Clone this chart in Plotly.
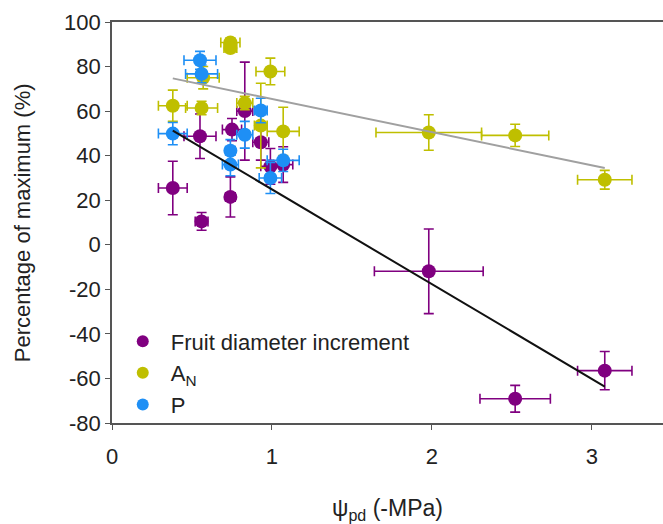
import plotly.graph_objects as go

# Fruit diameter increment (purple)
fruit_x = [0.38, 0.55, 0.56, 0.74, 0.75, 0.83, 0.93, 0.99, 1.07, 1.98, 2.52, 3.08]
fruit_y = [25.5, 48.7, 10.5, 21.5, 51.7, 60.0, 46.0, 35.2, 36.0, -11.9, -69.1, -56.5]
fruit_xerr = [0.09, 0.10, 0.04, 0.03, 0.06, 0.05, 0.05, 0.06, 0.06, 0.34, 0.22, 0.17]
fruit_yerr = [12, 10, 4, 9, 5, 22, 8, 8, 8, 19, 6, 8.6]

# Net assimilation A_N (olive yellow)
an_x = [0.38, 0.56, 0.57, 0.74, 0.74, 0.83, 0.93, 0.99, 1.07, 1.98, 2.52, 3.08]
an_y = [62.4, 61.4, 75.0, 90.8, 88.3, 63.6, 53.5, 77.8, 50.9, 50.4, 49.1, 29.2]
an_xerr = [0.09, 0.10, 0.10, 0.06, 0.04, 0.05, 0.04, 0.09, 0.10, 0.33, 0.21, 0.17]
an_yerr = [7, 3, 5, 2, 2, 3, 19, 6, 10.8, 8, 5, 4.2]

# P (blue)
p_x = [0.55, 0.56, 0.38, 0.93, 0.83, 0.74, 0.74, 1.07, 0.99]
p_y = [82.8, 76.7, 49.9, 60.3, 49.4, 42.2, 36.0, 37.9, 30.0]
p_xerr = [0.10, 0.10, 0.09, 0.04, 0.05, 0.03, 0.05, 0.10, 0.07]
p_yerr = [4, 4, 5, 5.5, 6, 5, 5, 5, 7]

# Linear fits: intercept, slope, and x extent
fruit_fit = [67.4, -42.55]
an_fit = [80.35, -14.9]
fit_x = [0.38, 3.08]

x_ticks = [0, 1, 2, 3]
x_labels = ["0", "1", "2", "3"]
y_ticks = [-80, -60, -40, -20, 0, 20, 40, 60, 80, 100]
y_labels = ["-80", "-60", "-40", "-20", "0", "20", "40", "60", "80", "100"]

PURPLE = "#800080"
OLIVE = "#bfbf00"
BLUE = "#1e8ff5"
FONT = "Liberation Sans, Arial, sans-serif"
TEXT = "#222222"

fig = go.Figure()


def add_series(name, xs, ys, xe, ye, color):
    fig.add_trace(go.Scatter(
        x=xs, y=ys, mode="markers", name=name,
        marker=dict(color=color, size=14, line=dict(width=0)),
        error_x=dict(type="data", array=xe, color=color, thickness=1.6, width=5),
        error_y=dict(type="data", array=ye, color=color, thickness=1.6, width=5),
    ))


add_series("Fruit diameter increment", fruit_x, fruit_y, fruit_xerr, fruit_yerr, PURPLE)
add_series("A<sub>N</sub>", an_x, an_y, an_xerr, an_yerr, OLIVE)
add_series("P", p_x, p_y, p_xerr, p_yerr, BLUE)

for fit, col in [(an_fit, "#a0a0a0"), (fruit_fit, "#111111")]:
    fig.add_trace(go.Scatter(
        x=fit_x, y=[fit[0] + fit[1] * v for v in fit_x],
        mode="lines", line=dict(color=col, width=2),
        showlegend=False, hoverinfo="skip",
    ))

axis_common = dict(
    showgrid=False, zeroline=False, showline=True,
    linecolor="#555555", linewidth=1.6,
    ticks="outside", ticklen=5, tickwidth=1.2, tickcolor="#555555",
    tickfont=dict(family=FONT, size=22, color=TEXT),
)

fig.update_layout(
    width=663, height=524,
    margin=dict(l=112, r=0, t=22, b=101),
    paper_bgcolor="white", plot_bgcolor="white",
    font=dict(family=FONT, size=22, color=TEXT),
    showlegend=True,
    legend=dict(
        x=0.005, y=-0.006, xanchor="left", yanchor="bottom",
        bgcolor="rgba(0,0,0,0)", font=dict(size=22),
        itemsizing="constant", itemwidth=46, tracegroupgap=0,
    ),
    xaxis=dict(
        range=[0, 3.444], tickvals=x_ticks, ticktext=x_labels, mirror=True,
        ticklabelstandoff=8,
        title=dict(text="ψ<sub>pd</sub> (-MPa)", font=dict(size=23), standoff=34),
        **axis_common,
    ),
    yaxis=dict(
        range=[-80, 100], tickvals=y_ticks, ticktext=y_labels,
        **axis_common,
    ),
    annotations=[dict(
        text="Percentage of maximum (%)", textangle=-90,
        xref="paper", yref="paper", x=-0.162, y=0.5,
        xanchor="center", yanchor="middle", showarrow=False,
        font=dict(family=FONT, size=22, color=TEXT),
    )],
)

fig.write_html("out.html")
